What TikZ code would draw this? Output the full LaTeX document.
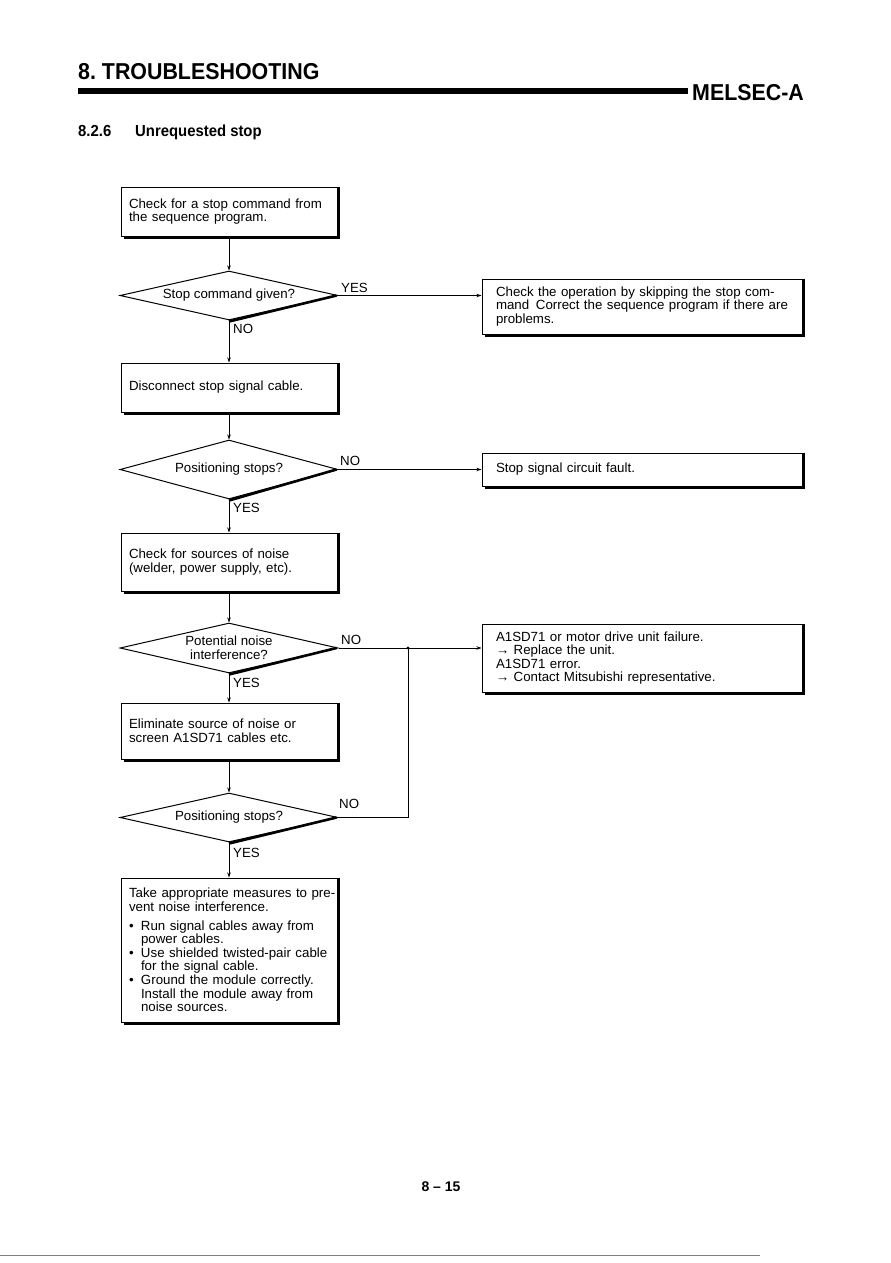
\documentclass[tikz,border=0pt]{standalone}
\usepackage{fontspec}
\setmainfont{Liberation Sans}
\usetikzlibrary{shapes.geometric,arrows.meta}
\newcommand\boxfont{\fontsize{13.3}{13.6}\selectfont}
\begin{document}
\begin{tikzpicture}[x=1pt,y=-1pt,
  box/.style={draw,line width=1,rectangle,minimum width=216,inner xsep=8,inner ysep=0,align=left,text width=200,font=\boxfont},
  rbox/.style={draw,line width=1,rectangle,minimum width=320,inner xsep=14,inner ysep=0,align=left,text width=292,font=\boxfont},
  dec/.style={draw,line width=1,diamond,minimum width=218,inner sep=0,shape aspect=4.4,align=center,font=\boxfont},
  lbl/.style={font=\boxfont,inner sep=0,anchor=west},
  conn/.style={line width=0.8},
  arr/.style={line width=0.8,-{Stealth[length=5,width=3.5]}},
  shad/.style={line width=2.6},
]
\useasboundingbox (0,0) rectangle (891,1263);

% header
\node[anchor=base west,inner sep=0,font=\fontsize{23}{23}\selectfont\bfseries,xscale=0.93] (title) at (78,80) {8.\ TROUBLESHOOTING};
\draw[line width=6] (78,91) -- (688,91);
\node[anchor=base west,inner sep=0,font=\fontsize{23}{23}\selectfont\bfseries,xscale=0.93] (melsec) at (692,100) {MELSEC-A};
\node[anchor=base west,inner sep=0,font=\fontsize{16}{16}\selectfont\bfseries,xscale=0.93] (secnum) at (78,136) {8.2.6};
\node[anchor=base west,inner sep=0,font=\fontsize{16}{16}\selectfont\bfseries,xscale=0.93] (sectitle) at (135,136) {Unrequested stop};

% left column
\node[box,minimum height=49] (b1) at (229,211.5) {Check for a stop command from\\the sequence program.};
\node[dec,minimum height=49] (d1) at (229,295.5) {Stop command given?};
\node[box,minimum height=49] (b2) at (229,387.5) {Disconnect stop signal cable.};
\node[dec,minimum height=59] (d2) at (229,469.5) {Positioning stops?};
\node[box,minimum height=58] (b3) at (229,562) {Check for sources of noise\\(welder, power supply, etc).};
\node[dec,minimum height=50] (d3) at (229,648) {Potential noise\\interference?};
\node[box,minimum height=56] (b4) at (229,731) {Eliminate source of noise or\\screen A1SD71 cables etc.};
\node[dec,minimum height=49] (d4) at (229,817.5) {Positioning stops?};
\node[box,minimum height=144] (b5) at (229,950) {\mbox{Take appropriate measures to pre-}\\vent noise interference.\\[5pt]
\makebox[12pt][l]{\textbullet}Run signal cables away from\\
\hspace*{12pt}power cables.\\
\makebox[12pt][l]{\textbullet}\mbox{Use shielded twisted-pair cable}\\
\hspace*{12pt}for the signal cable.\\
\makebox[12pt][l]{\textbullet}Ground the module correctly.\\
\hspace*{12pt}Install the module away from\\
\hspace*{12pt}noise sources.};

% right column
\node[rbox,minimum height=55] (r1) at (642,306.5) {Check the operation by skipping the stop com-\\mand\,\ Correct the sequence program if there are\\problems.};
\node[rbox,minimum height=33] (r2) at (642,469.5) {Stop signal circuit fault.};
\node[rbox,minimum height=68] (r3) at (642,658) {A1SD71 or motor drive unit failure.\\→ Replace the unit.\\A1SD71 error.\\→ Contact Mitsubishi representative.};

% shadows
\foreach \n in {b1,b2,b3,b4,b5,r1,r2,r3}{
  \draw[shad] ([xshift=1]\n.north east) -- ([xshift=1,yshift=-1]\n.south east) -- ([xshift=3,yshift=-1]\n.south west);
}
\foreach \n in {d1,d2,d3,d4}{
  \draw[shad] ([yshift=-1]\n.south) -- ([xshift=-2]\n.east);
}

% connectors
\draw[arr] (b1.south) -- (d1.north);
\draw[arr] (d1.east) -- (d1.east -| r1.west);
\draw[arr] (d1.south) -- (b2.north);
\draw[arr] (b2.south) -- (d2.north);
\draw[arr] (d2.east) -- (d2.east -| r2.west);
\draw[arr] (d2.south) -- (b3.north);
\draw[arr] (b3.south) -- (d3.north);
\draw[arr] (d3.east) -- (d3.east -| r3.west);
\draw[arr] (d3.south) -- (b4.north);
\draw[arr] (b4.south) -- (d4.north);
\draw[arr] (d4.south) -- (b5.north);
\coordinate (jn) at (408,0 |- d3.east);
\draw[conn] (d4.east) -| (jn);
\fill (jn) circle (1.6);

% labels
\node[lbl] (l1) at (341,288) {YES};
\node[lbl] (l2) at (233,329) {NO};
\node[lbl] (l3) at (340,461) {NO};
\node[lbl] (l4) at (233,508) {YES};
\node[lbl] (l5) at (341,640) {NO};
\node[lbl] (l6) at (233,683) {YES};
\node[lbl] (l7) at (339,804) {NO};
\node[lbl] (l8) at (233,853) {YES};

% footer
\node[inner sep=0,font=\fontsize{14}{14}\selectfont\bfseries] (pg) at (441,1187) {8 – 15};
\draw[line width=0.8,gray] (0,1255) -- (760,1255);
\end{tikzpicture}
\end{document}
